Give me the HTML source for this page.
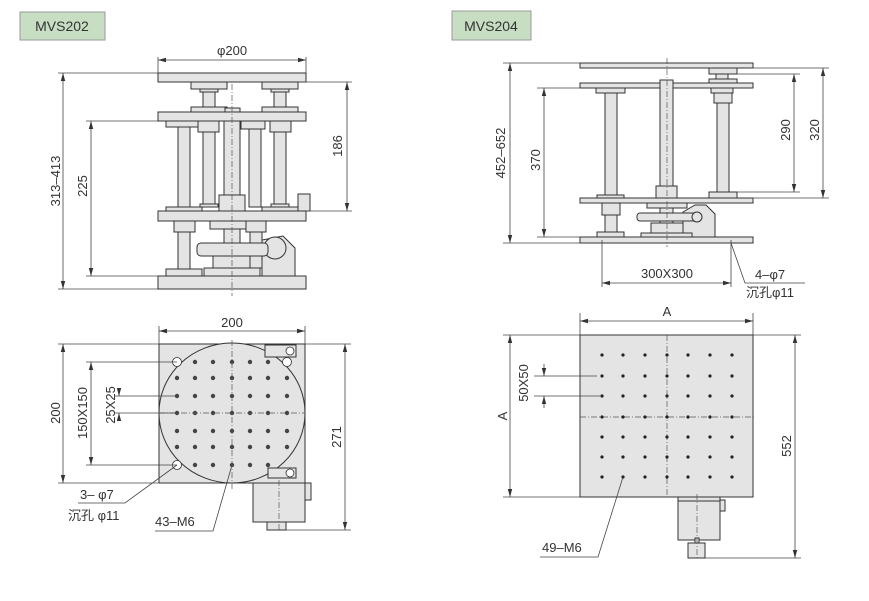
<!DOCTYPE html>
<html><head><meta charset="utf-8"><style>
html,body{margin:0;padding:0;background:#fff;}
svg{display:block;}
text{font-family:"Liberation Sans","Noto Sans CJK SC",sans-serif;font-size:13px;fill:#333;}
.p{fill:#e4e4e4;stroke:#333;stroke-width:1;}
.d{stroke:#444;stroke-width:0.8;fill:none;}
.c{stroke:#555;stroke-width:0.7;stroke-dasharray:6 2 1 2;fill:none;}
.h{fill:#fff;stroke:#333;stroke-width:0.8;}
</style></head><body>
<svg width="869" height="601" viewBox="0 0 869 601" xmlns="http://www.w3.org/2000/svg">
<defs>
<marker id="a" markerWidth="8" markerHeight="6" refX="8" refY="3" orient="auto-start-reverse" markerUnits="userSpaceOnUse"><path d="M0,0.8 L8,3 L0,5.2z" fill="#333"/></marker>
</defs>
<rect x="20" y="12" width="85" height="28" fill="#c7dec3" stroke="#999"/>
<text x="62" y="31" text-anchor="middle" style="font-size:14px">MVS202</text>
<rect x="452" y="11" width="79" height="29" fill="#c7dec3" stroke="#999"/>
<text x="491" y="31" text-anchor="middle" style="font-size:14px">MVS204</text>

<g>
<rect class="p" x="191" y="82" width="36" height="7"/><rect class="p" x="262" y="82" width="36" height="7"/>
<rect class="p" x="200" y="89" width="18" height="3"/><rect class="p" x="271" y="89" width="18" height="3"/>
<rect class="p" x="203" y="92" width="12" height="15"/><rect class="p" x="274" y="92" width="12" height="15"/>
<rect class="p" x="191" y="107" width="36" height="5"/><rect class="p" x="262" y="107" width="36" height="5"/>
<rect class="p" x="225" y="108" width="15" height="4"/>
<rect class="p" x="158" y="73" width="148" height="9"/>
<rect class="p" x="158" y="112" width="148" height="9"/>
<rect class="p" x="178" y="127" width="12" height="80"/><rect class="p" x="203" y="127" width="12" height="77"/>
<rect class="p" x="249" y="127" width="12" height="80"/><rect class="p" x="274" y="127" width="12" height="77"/>
<rect class="p" x="166" y="121" width="36" height="6"/><rect class="p" x="198" y="121" width="21" height="11"/>
<rect class="p" x="241" y="121" width="24" height="8"/><rect class="p" x="270" y="121" width="21" height="11"/>
<rect class="p" x="224" y="121" width="16" height="74"/>
<rect class="p" x="219" y="195" width="26" height="16"/>
<rect class="p" x="200" y="204" width="18" height="3"/><rect class="p" x="271" y="204" width="18" height="3"/>
<rect class="p" x="166" y="207" width="36" height="4"/><rect class="p" x="262" y="207" width="36" height="4"/>
<rect class="p" x="298" y="194" width="12" height="17"/>
<rect class="p" x="158" y="211" width="148" height="10"/>
<rect class="p" x="178" y="232" width="12" height="37"/>
<rect class="p" x="174" y="221" width="21" height="11"/>
<rect class="p" x="224" y="221" width="16" height="35"/>
<rect class="p" x="210" y="221" width="45" height="8"/><rect class="p" x="246" y="221" width="20" height="11"/>
<rect class="p" x="250" y="232" width="12" height="36"/>
<path class="p" d="M262,276 L262,240 L283,236 L295,248 L295,276z"/>
<circle class="p" cx="275" cy="248" r="11"/>
<rect class="p" x="213" y="256" width="37" height="12"/>
<rect class="p" x="197" y="243" width="71" height="13" rx="4"/>
<rect class="p" x="204" y="268" width="56" height="8"/>
<rect class="p" x="166" y="269" width="36" height="7"/>
<rect class="p" x="158" y="276" width="148" height="13"/>
<line class="c" x1="232" y1="84" x2="232" y2="296"/>
<line class="d" x1="158" y1="57" x2="158" y2="73"/><line class="d" x1="306" y1="57" x2="306" y2="73"/>
<line class="d" x1="158" y1="60" x2="306" y2="60" marker-start="url(#a)" marker-end="url(#a)"/>
<text x="232" y="55" text-anchor="middle">φ200</text>
<line class="d" x1="58" y1="73" x2="158" y2="73"/><line class="d" x1="58" y1="289" x2="158" y2="289"/>
<line class="d" x1="63" y1="73" x2="63" y2="289" marker-start="url(#a)" marker-end="url(#a)"/>
<text transform="translate(60,181) rotate(-90)" text-anchor="middle">313–413</text>
<line class="d" x1="86" y1="121" x2="158" y2="121"/><line class="d" x1="86" y1="276" x2="158" y2="276"/>
<line class="d" x1="91" y1="121" x2="91" y2="276" marker-start="url(#a)" marker-end="url(#a)"/>
<text transform="translate(87,186) rotate(-90)" text-anchor="middle">225</text>
<line class="d" x1="298" y1="82" x2="352" y2="82"/><line class="d" x1="306" y1="211" x2="352" y2="211"/>
<line class="d" x1="347" y1="82" x2="347" y2="211" marker-start="url(#a)" marker-end="url(#a)"/>
<text transform="translate(342,146) rotate(-90)" text-anchor="middle">186</text>
</g>

<g>
<rect class="p" x="709" y="68" width="28" height="6"/><rect class="p" x="716" y="74" width="12" height="5"/>
<rect class="p" x="709" y="79" width="28" height="4"/>
<rect class="p" x="580" y="63" width="173" height="5"/>
<rect class="p" x="580" y="83" width="173" height="5"/>
<rect class="p" x="711" y="88" width="22" height="5"/><rect class="p" x="714" y="93" width="18" height="10"/>
<rect class="p" x="717" y="103" width="12" height="89"/><rect class="p" x="709" y="192" width="28" height="6"/>
<rect class="p" x="596" y="88" width="29" height="5"/><rect class="p" x="605" y="93" width="12" height="102"/>
<rect class="p" x="597" y="195" width="27" height="3"/>
<rect class="p" x="660" y="80" width="13" height="106"/><rect class="p" x="656" y="186" width="21" height="12"/>
<rect class="p" x="580" y="198" width="173" height="5"/>
<rect class="p" x="602" y="203" width="18" height="12"/><rect class="p" x="605" y="215" width="12" height="17"/>
<rect class="p" x="597" y="232" width="27" height="5"/>
<rect class="p" x="647" y="203" width="40" height="5"/>
<path class="p" d="M683,237 L683,212 L695,205 L706,205 L715,214 L715,237z"/>
<rect class="p" x="660" y="208" width="13" height="15"/>
<rect class="p" x="651" y="223" width="32" height="10"/>
<rect class="p" x="637" y="213" width="63" height="8" rx="3"/>
<circle class="p" cx="697" cy="217" r="5"/>
<rect class="p" x="641" y="233" width="51" height="4"/>
<rect class="p" x="580" y="237" width="173" height="6"/>
<line class="c" x1="667" y1="58" x2="667" y2="247"/>
<line class="d" x1="503" y1="63" x2="580" y2="63"/><line class="d" x1="503" y1="243" x2="580" y2="243"/>
<line class="d" x1="510" y1="63" x2="510" y2="243" marker-start="url(#a)" marker-end="url(#a)"/>
<text transform="translate(505,153) rotate(-90)" text-anchor="middle">452–652</text>
<line class="d" x1="537" y1="88" x2="580" y2="88"/><line class="d" x1="537" y1="237" x2="580" y2="237"/>
<line class="d" x1="544" y1="88" x2="544" y2="237" marker-start="url(#a)" marker-end="url(#a)"/>
<text transform="translate(540,160) rotate(-90)" text-anchor="middle">370</text>
<line class="d" x1="737" y1="74" x2="800" y2="74"/><line class="d" x1="737" y1="192" x2="800" y2="192"/>
<line class="d" x1="794" y1="74" x2="794" y2="192" marker-start="url(#a)" marker-end="url(#a)"/>
<text transform="translate(790,130) rotate(-90)" text-anchor="middle">290</text>
<line class="d" x1="753" y1="68" x2="829" y2="68"/><line class="d" x1="753" y1="198" x2="829" y2="198"/>
<line class="d" x1="823" y1="68" x2="823" y2="198" marker-start="url(#a)" marker-end="url(#a)"/>
<text transform="translate(819,130) rotate(-90)" text-anchor="middle">320</text>
<line class="d" x1="602" y1="240" x2="602" y2="287"/><line class="d" x1="731" y1="240" x2="731" y2="287"/>
<line class="d" x1="602" y1="283" x2="731" y2="283" marker-start="url(#a)" marker-end="url(#a)"/>
<text x="667" y="278" text-anchor="middle">300X300</text>
<polyline class="d" points="731,243 745,283 805,283"/>
<text x="755" y="279">4–φ7</text>
<text x="746" y="297">沉孔φ11</text>
</g>

<g>
<rect class="p" x="253" y="476" width="52" height="46"/>
<rect class="p" x="305" y="483" width="6" height="17"/>
<rect class="p" x="267" y="522" width="19" height="8"/>
<rect class="p" x="159" y="344" width="146" height="139"/>
<ellipse class="p" cx="232" cy="413" rx="73" ry="70"/>
<rect class="p" x="265" y="345" width="31" height="12"/>
<circle class="h" cx="290" cy="351" r="4"/>
<rect class="p" x="268" y="468" width="28" height="10"/>
<circle class="h" cx="290" cy="473" r="4"/>
<circle class="h" cx="177" cy="362" r="4.5"/><circle class="h" cx="177" cy="465" r="4.5"/><circle class="h" cx="287" cy="362" r="4.5"/>
<g fill="#444">
<circle cx="195" cy="362" r="2.2"/><circle cx="213" cy="362" r="2.2"/><circle cx="232" cy="362" r="2.2"/><circle cx="250" cy="362" r="2.2"/><circle cx="268" cy="362" r="2.2"/>
<circle cx="177" cy="378" r="2.2"/><circle cx="195" cy="378" r="2.2"/><circle cx="213" cy="378" r="2.2"/><circle cx="232" cy="378" r="2.2"/><circle cx="250" cy="378" r="2.2"/><circle cx="268" cy="378" r="2.2"/><circle cx="287" cy="378" r="2.2"/>
<circle cx="177" cy="396" r="2.2"/><circle cx="195" cy="396" r="2.2"/><circle cx="213" cy="396" r="2.2"/><circle cx="232" cy="396" r="2.2"/><circle cx="250" cy="396" r="2.2"/><circle cx="268" cy="396" r="2.2"/><circle cx="287" cy="396" r="2.2"/>
<circle cx="177" cy="413" r="2.2"/><circle cx="195" cy="413" r="2.2"/><circle cx="213" cy="413" r="2.2"/><circle cx="232" cy="413" r="2.2"/><circle cx="250" cy="413" r="2.2"/><circle cx="268" cy="413" r="2.2"/><circle cx="287" cy="413" r="2.2"/>
<circle cx="177" cy="431" r="2.2"/><circle cx="195" cy="431" r="2.2"/><circle cx="213" cy="431" r="2.2"/><circle cx="232" cy="431" r="2.2"/><circle cx="250" cy="431" r="2.2"/><circle cx="268" cy="431" r="2.2"/><circle cx="287" cy="431" r="2.2"/>
<circle cx="177" cy="447" r="2.2"/><circle cx="195" cy="447" r="2.2"/><circle cx="213" cy="447" r="2.2"/><circle cx="232" cy="447" r="2.2"/><circle cx="250" cy="447" r="2.2"/><circle cx="268" cy="447" r="2.2"/><circle cx="287" cy="447" r="2.2"/>
<circle cx="195" cy="465" r="2.2"/><circle cx="213" cy="465" r="2.2"/><circle cx="232" cy="465" r="2.2"/><circle cx="250" cy="465" r="2.2"/><circle cx="268" cy="465" r="2.2"/>
</g>
<line class="c" x1="232" y1="340" x2="232" y2="490"/>
<line class="c" x1="159" y1="413" x2="305" y2="413"/>
<line class="c" x1="279" y1="480" x2="279" y2="532"/>
<line class="d" x1="159" y1="326" x2="159" y2="344"/><line class="d" x1="305" y1="326" x2="305" y2="344"/>
<line class="d" x1="159" y1="331" x2="305" y2="331" marker-start="url(#a)" marker-end="url(#a)"/>
<text x="232" y="327" text-anchor="middle">200</text>
<line class="d" x1="58" y1="344" x2="159" y2="344"/><line class="d" x1="58" y1="483" x2="159" y2="483"/>
<line class="d" x1="63" y1="344" x2="63" y2="483" marker-start="url(#a)" marker-end="url(#a)"/>
<text transform="translate(60,413) rotate(-90)" text-anchor="middle">200</text>
<line class="d" x1="86" y1="362" x2="177" y2="362"/><line class="d" x1="86" y1="465" x2="177" y2="465"/>
<line class="d" x1="91" y1="362" x2="91" y2="465" marker-start="url(#a)" marker-end="url(#a)"/>
<text transform="translate(87,413) rotate(-90)" text-anchor="middle">150X150</text>
<line class="d" x1="115" y1="396" x2="177" y2="396"/><line class="d" x1="115" y1="413" x2="177" y2="413"/>
<line class="d" x1="119" y1="388" x2="119" y2="396" marker-end="url(#a)"/><line class="d" x1="119" y1="421" x2="119" y2="413" marker-end="url(#a)"/>
<text transform="translate(115,405) rotate(-90)" text-anchor="middle">25X25</text>
<line class="d" x1="305" y1="344" x2="351" y2="344"/><line class="d" x1="286" y1="530" x2="351" y2="530"/>
<line class="d" x1="345" y1="344" x2="345" y2="530" marker-start="url(#a)" marker-end="url(#a)"/>
<text transform="translate(341,437) rotate(-90)" text-anchor="middle">271</text>
<polyline class="d" points="177,465 125,503 78,503"/>
<text x="80" y="499">3– φ7</text>
<text x="68" y="520">沉孔 φ11</text>
<polyline class="d" points="232,465 213,531 155,531"/>
<text x="155" y="526">43–M6</text>
</g>

<g>
<rect class="p" x="678" y="497" width="42" height="43"/>
<rect class="p" x="678" y="497" width="42" height="4"/>
<rect class="p" x="720" y="500" width="5" height="11"/>
<rect class="p" x="695" y="538" width="4" height="5"/>
<rect class="p" x="688" y="543" width="17" height="15"/>
<rect class="p" x="580" y="335" width="173" height="162"/>
<line class="c" x1="667" y1="335" x2="667" y2="497"/>
<line class="c" x1="580" y1="417" x2="755" y2="417"/>
<line class="c" x1="697" y1="494" x2="697" y2="560"/>
<g fill="#222">
<circle cx="602" cy="355" r="1.6"/><circle cx="623" cy="355" r="1.6"/><circle cx="645" cy="355" r="1.6"/><circle cx="667" cy="355" r="1.6"/><circle cx="688" cy="355" r="1.6"/><circle cx="710" cy="355" r="1.6"/><circle cx="732" cy="355" r="1.6"/>
<circle cx="602" cy="376" r="1.6"/><circle cx="623" cy="376" r="1.6"/><circle cx="645" cy="376" r="1.6"/><circle cx="667" cy="376" r="1.6"/><circle cx="688" cy="376" r="1.6"/><circle cx="710" cy="376" r="1.6"/><circle cx="732" cy="376" r="1.6"/>
<circle cx="602" cy="396" r="1.6"/><circle cx="623" cy="396" r="1.6"/><circle cx="645" cy="396" r="1.6"/><circle cx="667" cy="396" r="1.6"/><circle cx="688" cy="396" r="1.6"/><circle cx="710" cy="396" r="1.6"/><circle cx="732" cy="396" r="1.6"/>
<circle cx="602" cy="417" r="1.6"/><circle cx="623" cy="417" r="1.6"/><circle cx="645" cy="417" r="1.6"/><circle cx="667" cy="417" r="1.6"/><circle cx="688" cy="417" r="1.6"/><circle cx="710" cy="417" r="1.6"/><circle cx="732" cy="417" r="1.6"/>
<circle cx="602" cy="437" r="1.6"/><circle cx="623" cy="437" r="1.6"/><circle cx="645" cy="437" r="1.6"/><circle cx="667" cy="437" r="1.6"/><circle cx="688" cy="437" r="1.6"/><circle cx="710" cy="437" r="1.6"/><circle cx="732" cy="437" r="1.6"/>
<circle cx="602" cy="457" r="1.6"/><circle cx="623" cy="457" r="1.6"/><circle cx="645" cy="457" r="1.6"/><circle cx="667" cy="457" r="1.6"/><circle cx="688" cy="457" r="1.6"/><circle cx="710" cy="457" r="1.6"/><circle cx="732" cy="457" r="1.6"/>
<circle cx="602" cy="477" r="1.6"/><circle cx="623" cy="477" r="1.6"/><circle cx="645" cy="477" r="1.6"/><circle cx="667" cy="477" r="1.6"/><circle cx="688" cy="477" r="1.6"/><circle cx="710" cy="477" r="1.6"/><circle cx="732" cy="477" r="1.6"/>
</g>
<line class="d" x1="580" y1="313" x2="580" y2="335"/><line class="d" x1="753" y1="313" x2="753" y2="335"/>
<line class="d" x1="580" y1="321" x2="753" y2="321" marker-start="url(#a)" marker-end="url(#a)"/>
<text x="667" y="316" text-anchor="middle">A</text>
<line class="d" x1="503" y1="335" x2="580" y2="335"/><line class="d" x1="503" y1="497" x2="580" y2="497"/>
<line class="d" x1="510" y1="335" x2="510" y2="497" marker-start="url(#a)" marker-end="url(#a)"/>
<text transform="translate(507,416) rotate(-90)" text-anchor="middle">A</text>
<line class="d" x1="534" y1="376" x2="597" y2="376"/><line class="d" x1="534" y1="396" x2="600" y2="396"/>
<line class="d" x1="544" y1="364" x2="544" y2="376" marker-end="url(#a)"/><line class="d" x1="544" y1="408" x2="544" y2="396" marker-end="url(#a)"/>
<text transform="translate(528,383) rotate(-90)" text-anchor="middle">50X50</text>
<line class="d" x1="753" y1="335" x2="801" y2="335"/><line class="d" x1="705" y1="558" x2="801" y2="558"/>
<line class="d" x1="795" y1="335" x2="795" y2="558" marker-start="url(#a)" marker-end="url(#a)"/>
<text transform="translate(791,446) rotate(-90)" text-anchor="middle">552</text>
<polyline class="d" points="623,477 598,557 540,557"/>
<text x="542" y="552">49–M6</text>
</g>
</svg>
</body></html>
